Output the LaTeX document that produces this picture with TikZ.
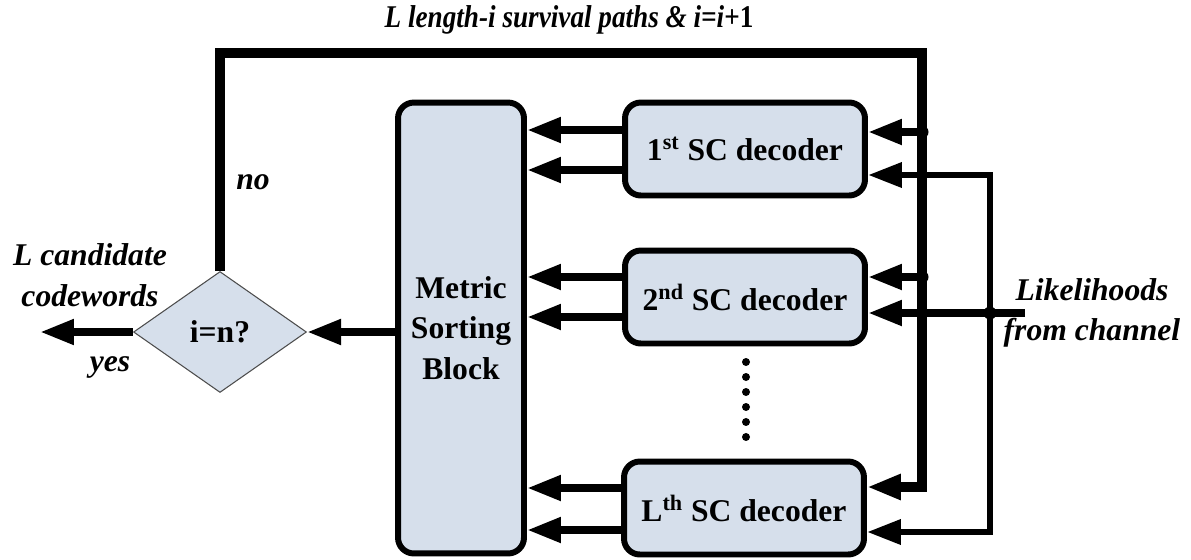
\documentclass[tikz,border=0pt]{standalone}
\usepackage{fontspec}
\setmainfont{Liberation Serif}
\usetikzlibrary{arrows.meta,calc,positioning,shapes.geometric}
\definecolor{scfill}{RGB}{214,223,235}

\begin{document}
\begin{tikzpicture}[x=0.02cm, y=-0.02cm,
      scbox/.style={draw, line width=3.4pt, rounded corners=9pt, fill=scfill, minimum width=4.8cm, minimum height=1.86cm, inner sep=0pt, font=\fontsize{18}{22}\selectfont\bfseries},
      sortbox/.style={draw, line width=3.4pt, rounded corners=9pt, fill=scfill, minimum width=2.52cm, minimum height=9.02cm, align=center, font=\fontsize{18}{23}\selectfont\bfseries},
      testbox/.style={diamond, draw=black!70, line width=0.6pt, fill=scfill, minimum width=3.46cm, minimum height=2.42cm, inner sep=0pt, font=\fontsize{18}{22}\selectfont\bfseries},
      lbl/.style={font=\fontsize{18}{23}\selectfont\bfseries\itshape, align=center, inner sep=0pt},
      arr/.style={line width=4.4pt, -{Triangle[length=0.68cm,width=0.48cm]}},
      jdot/.style={circle, fill, inner sep=0pt, minimum size=0.26cm}
    ]
      \useasboundingbox (0,0) rectangle (1191,559);

      % Blocks
      \node[sortbox] (sort) at (461,328) {Metric\\Sorting\\Block};
      \node[scbox] (dec1) at (745,149) {1\textsuperscript{st} SC decoder};
      \node[scbox] (dec2) at (745,297) {2\textsuperscript{nd} SC decoder};
      \node[scbox] (decL) at (744,508) {L\textsuperscript{th} SC decoder};
      \node[testbox] (test) at (220,332) {i=n?};

      % Labels
      \node[lbl] (toplbl) at (569,20) {\scalebox{0.86}[1]{L length-i survival paths \& i=i\textup{+1}}};
      \node[lbl] (nolbl) at (253,182) {no};
      \node[lbl] (cand) at (90,275) {L candidate\\codewords};
      \node[lbl] (yeslbl) at (110,367) {yes};
      \node[lbl] (llr) at (1092,313) {Likelihoods\\from channel};

      % Points on the lines
      \coordinate (out) at (40,332);
      \coordinate (loopR) at (922,53);
      \coordinate (j1) at (922,132);
      \coordinate (j2) at (922,277);
      \coordinate (chan) at (990,313);
      \coordinate (src) at (1025,313);
      \coordinate (o1a) at ($(dec1.west)+(0,-19)$);
      \coordinate (o1b) at ($(dec1.west)+(0,21)$);
      \coordinate (o2a) at ($(dec2.west)+(0,-20)$);
      \coordinate (o2b) at ($(dec2.west)+(0,20)$);
      \coordinate (oLa) at ($(decL.west)+(0,-20)$);
      \coordinate (oLb) at ($(decL.west)+(0,22)$);

      % Decision and feedback loop
      \draw[arr] (test.east -| sort.west) -- (test.east);
      \draw[arr] (test.west) -- (out);
      \draw[arr, line width=5.4pt] (test.north) |- (loopR) |- ($(decL.east)+(0,-21)$);
      \draw[arr] (j1) -- (j1 -| dec1.east);
      \draw[arr] (j2) -- (j2 -| dec2.east);
      \node[jdot] at (j1) {};
      \node[jdot] at (j2) {};

      % Channel likelihoods
      \draw[arr, line width=3.8pt] (chan) |- ($(dec1.east)+(0,26)$);
      \draw[arr, line width=3.8pt] (chan) |- ($(decL.east)+(0,24)$);
      \draw[arr] (src) -- (src -| dec2.east);
      \node[jdot] at (chan) {};

      % Decoder outputs
      \draw[arr] (o1a) -- (o1a -| sort.east);
      \draw[arr] (o1b) -- (o1b -| sort.east);
      \draw[arr] (o2a) -- (o2a -| sort.east);
      \draw[arr] (o2b) -- (o2b -| sort.east);
      \draw[arr] (oLa) -- (oLa -| sort.east);
      \draw[arr] (oLb) -- (oLb -| sort.east);

      % more decoders
      \draw[line width=0.16cm, line cap=round, dash pattern=on 0pt off 0.3cm] (746,362) -- (746,438);
    \end{tikzpicture}
\end{document}
